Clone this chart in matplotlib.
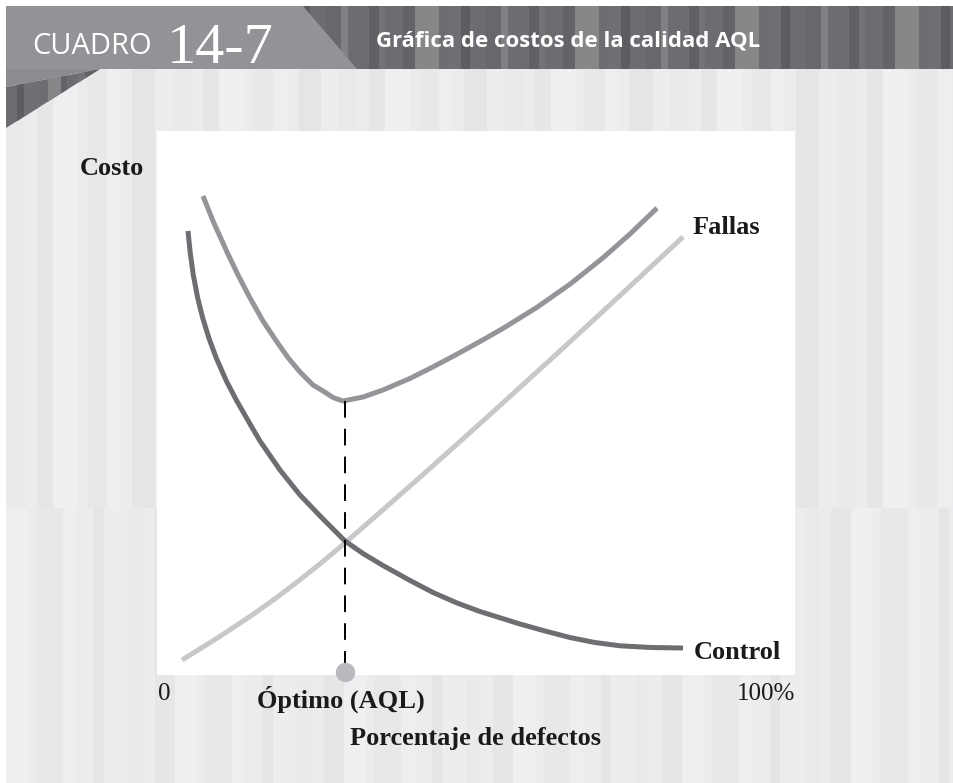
import matplotlib
matplotlib.use('Agg')
import matplotlib.pyplot as plt
from matplotlib.patches import Rectangle, Polygon

# % de defectos (0-100) vs costo (escala 0-100)
control_x = [4.86, 5.19, 5.69, 6.38, 7.16, 8.13, 9.29, 10.88, 12.51, 14.58, 16.14, 19.28, 22.41,
             26.02, 29.47, 32.29, 35.42, 39.66, 43.26, 47.02, 50.63, 56.90, 60.82, 64.73, 68.65,
             72.57, 77.27, 82.45]
control_y = [81.62, 77.76, 73.53, 69.30, 65.63, 61.95, 58.27, 54.04, 50.37, 46.14, 43.01, 37.68,
             33.09, 28.68, 24.63, 22.33, 20.13, 17.37, 15.17, 13.24, 11.67, 9.37, 8.09, 6.89, 5.97,
             5.37, 5.06, 4.96]

total_x = [7.21, 8.78, 10.97, 12.70, 14.58, 16.61, 18.81, 20.53, 22.41, 24.45, 26.02, 27.59,
           29.15, 32.29, 35.42, 39.66, 43.26, 47.02, 50.63, 54.23, 59.56, 64.73, 69.91, 74.14,
           78.37]
total_y = [88.05, 83.46, 77.76, 73.53, 69.30, 65.07, 61.21, 58.35, 55.70, 53.31, 52.21, 51.01,
           50.37, 51.10, 52.39, 54.52, 56.64, 58.97, 61.30, 63.71, 67.59, 71.84, 76.69, 81.07,
           85.83]

fallas_x = [3.92, 9.40, 14.58, 18.81, 22.41, 26.02, 29.47, 35.42, 40.75, 45.92, 50.63, 54.23,
            62.07, 69.91, 76.18, 82.45]
fallas_y = [2.76, 6.75, 10.75, 14.28, 17.50, 20.88, 24.28, 30.37, 35.86, 41.27, 46.23, 50.04,
            58.40, 66.86, 73.69, 80.53]

optimo_x = 29.5
optimo_y = 50.4

SERIF = ['Liberation Serif', 'DejaVu Serif']
SANS = ['Open Sans', 'DejaVu Sans']
plt.rcParams['lines.scale_dashes'] = False

W, H = 954, 783
fig = plt.figure(figsize=(W / 100, H / 100), dpi=100)
fig.patch.set_facecolor('white')

# background / header decoration in pixel coords
bg = fig.add_axes([0, 0, 1, 1])
bg.set_xlim(0, W)
bg.set_ylim(H, 0)
bg.axis('off')


def stripes(x0, x1, y0, y1, base, shades, widths, clip=None, z=0):
    arts = [Rectangle((x0, y0), x1 - x0, y1 - y0, color=base, lw=0, zorder=z)]
    x, i = x0, 0
    while x < x1:
        w = widths[i % len(widths)]
        c = shades[i % len(shades)]
        if c:
            arts.append(Rectangle((x, y0), min(w, x1 - x), y1 - y0, color=c, lw=0, zorder=z))
        x += w
        i += 1
    for a in arts:
        bg.add_patch(a)
        if clip is not None:
            a.set_clip_path(clip)


light = ['#e9eaeb', None, '#e5e6e6', '#eeeff0', None, '#e7e8e8', '#edeeef', None, '#e4e5e5', '#ecedee']
stripes(6, W, 69, 508, '#ebeced', light, [19, 12, 16, 25, 9, 20, 14, 11, 23, 17])
stripes(6, W, 508, H, '#ebeced', light[3:] + light[:3], [22, 8, 27, 13, 18, 10, 24, 15, 12, 20])

dark = ['#67686c', '#808184', None, '#5f6064', '#727377', None, '#636468', '#868789', None, '#6f7074',
        '#5c5d61', None]
stripes(6, W, 6, 69, '#6c6d71', dark, [15, 7, 21, 10, 6, 18, 12, 24, 8, 14, 9, 16])

tri = Polygon([(100, 69), (6, 87), (6, 128)], closed=True, transform=bg.transData)
stripes(6, 100, 69, 128, '#6c6d71', dark[::-1], [11, 7, 15, 9, 13, 6], clip=tri, z=1)
bg.add_patch(Polygon([(6, 69), (100, 69), (6, 87)], closed=True, color='#8c8d90', lw=0, zorder=1))
bg.add_patch(Polygon([(6, 6), (303, 6), (357, 69), (6, 69)], closed=True,
                     color='#929396', lw=0, zorder=2))

bg.text(32, 54, 'CUADRO', color='white', fontsize=21, family=SANS, va='baseline', zorder=3)
bg.text(167, 63, '14-7', color='white', fontsize=42, family=SERIF, va='baseline', zorder=3)
bg.text(376, 47, 'Gráfica de costos de la calidad AQL', color='white', fontsize=16,
        fontweight='bold', family=SANS, va='baseline', zorder=3)

# chart area
ax = fig.add_axes([157 / W, (H - 675) / H, 638 / W, 544 / H])
ax.set_facecolor('white')
ax.set_xlim(0, 100)
ax.set_ylim(0, 100)
for s in ax.spines.values():
    s.set_visible(False)
ax.set_xticks([])
ax.set_yticks([])

line = dict(lw=3.6, solid_capstyle='butt', solid_joinstyle='round')
ax.plot(fallas_x, fallas_y, color='#c7c8ca', zorder=2, **line)
ax.plot(control_x, control_y, color='#6d6e71', zorder=3, **line)
ax.plot(total_x, total_y, color='#939598', zorder=3, **line)

ax.plot([optimo_x, optimo_x], [optimo_y, 1.0], color='black', lw=1.4, dashes=(12, 8), zorder=4)
ax.plot([optimo_x], [0.6], 'o', ms=13, color='#b9babd', clip_on=False, zorder=5)

lab = dict(family=SERIF, fontsize=19, fontweight='bold', color='#1a1a1a', va='baseline')
ax.text(-0.121, 0.919, 'Costo', transform=ax.transAxes, ha='left', **lab)
ax.annotate('Fallas', xy=(fallas_x[-1], fallas_y[-1]), xytext=(10, 3),
            textcoords='offset pixels', ha='left', **lab)
ax.annotate('Control', xy=(control_x[-1], control_y[-1]), xytext=(11, -11),
            textcoords='offset pixels', ha='left', **lab)
ax.annotate('Óptimo (AQL)', xy=(optimo_x, 0), xytext=(-4, -33),
            textcoords='offset pixels', ha='center', annotation_clip=False, **lab)
ax.text(0.5, -0.1287, 'Porcentaje de defectos', transform=ax.transAxes, ha='center', **lab)

tick = dict(family=SERIF, fontsize=18, color='#1a1a1a', va='baseline', transform=ax.transAxes)
ax.text(0.011, -0.046, '0', ha='center', **tick)
ax.text(1.0, -0.046, '100%', ha='right', **tick)

fig.savefig('out.png', dpi=100)
